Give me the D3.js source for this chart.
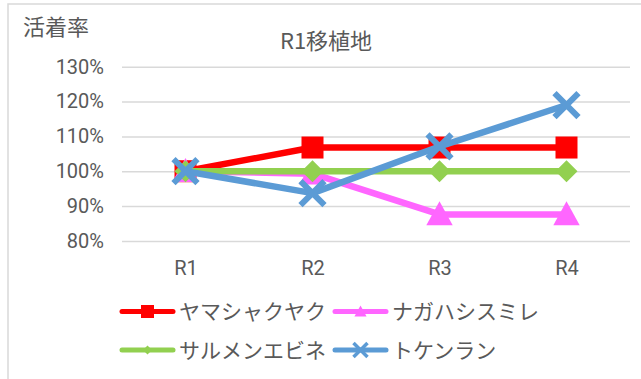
<!DOCTYPE html>
<html><head><meta charset="utf-8">
<script src="https://cdn.jsdelivr.net/npm/d3@7"></script>
<style>body{margin:0;background:#fff}svg{display:block}</style>
</head><body>
<script>
const categories = ["R1","R2","R3","R4"];
const seriesNames = ["ヤマシャクヤク","ナガハシスミレ","サルメンエビネ","トケンラン"];
const yamashakuyaku = [1.00, 1.068, 1.068, 1.068];
const nagahashisumire = [1.00, 0.993, 0.876, 0.876];
const salmenebine = [1.00, 1.00, 1.00, 1.00];
const tokenran = [1.00, 0.937, 1.071, 1.19];
const yTicks = [0.8,0.9,1.0,1.1,1.2,1.3];
const title = "R1移植地";
const yTitle = "活着率";

const colors = ["#FF0000","#FF66FF","#92D050","#5B9BD5"];
const shapes = ["square","triangle","diamond","x"];
const data = [yamashakuyaku, nagahashisumire, salmenebine, tokenran];

const W=641,H=379;
const svg=d3.select("body").append("svg").attr("width",W).attr("height",H);
const jp = "'Noto Sans CJK JP', sans-serif";
const txt = "#595959";

// border
svg.append("path").attr("d","M8,379 L8,4 L641,4").attr("fill","none").attr("stroke","#D9D9D9").attr("stroke-width",1.5);

const plot={l:122,r:630,t:66.7,b:240.9};
const x=d3.scalePoint().domain(categories).range([plot.l,plot.r]).padding(0.5);
const y=d3.scaleLinear().domain([0.8,1.3]).range([plot.b,plot.t]);

// grid
const yAxis=d3.axisLeft(y).tickValues(yTicks).tickFormat(d3.format(".0%")).tickSize(-(plot.r-plot.l)).tickPadding(18);
const ga=svg.append("g").attr("transform",`translate(${plot.l},0)`).call(yAxis);
ga.select(".domain").remove();
ga.selectAll(".tick line").attr("stroke","#D9D9D9").attr("stroke-width",1.5);
ga.selectAll(".tick text").attr("fill",txt).attr("font-family","Roboto, sans-serif").attr("font-size",20);

const xAxis=d3.axisBottom(x).tickSize(0).tickPadding(20);
const gx=svg.append("g").attr("transform",`translate(0,${plot.b})`).call(xAxis);
gx.select(".domain").remove();
gx.selectAll(".tick text").attr("fill",txt).attr("font-family","Roboto, sans-serif").attr("font-size",20);

// titles
svg.append("text").attr("x",326).attr("y",49).attr("text-anchor","middle").attr("fill",txt)
  .attr("font-family",jp).attr("font-size",22).text(title);
svg.append("text").attr("x",23).attr("y",35).attr("fill",txt)
  .attr("font-family",jp).attr("font-size",22).text(yTitle);

function marker(g, shape, cx, cy, color, s){
  if(shape==="square"){
    g.append("rect").attr("x",cx-s/2).attr("y",cy-s/2).attr("width",s).attr("height",s).attr("fill",color);
  } else if(shape==="triangle"){
    const h=s;
    g.append("path").attr("d",`M${cx},${cy-h*0.55} L${cx+s*0.55},${cy+h*0.45} L${cx-s*0.55},${cy+h*0.45} Z`).attr("fill",color);
  } else if(shape==="diamond"){
    g.append("path").attr("d",`M${cx},${cy-s/2} L${cx+s/2},${cy} L${cx},${cy+s/2} L${cx-s/2},${cy} Z`).attr("fill",color);
  } else {
    const a=s/2;
    g.append("path").attr("d",`M${cx-a},${cy-a} L${cx+a},${cy+a} M${cx-a},${cy+a} L${cx+a},${cy-a}`)
      .attr("stroke",color).attr("stroke-width",s*0.25).attr("fill","none");
  }
}

const line=d3.line().x((d,i)=>x(categories[i])).y(d=>y(d));
const sizes=[22,24,22,24];
data.forEach((vals,si)=>{
  const g=svg.append("g");
  g.append("path").datum(vals).attr("d",line).attr("fill","none").attr("stroke",colors[si])
    .attr("stroke-width",6.5).attr("stroke-linejoin","round").attr("stroke-linecap","round");
  vals.forEach((v,i)=>marker(g,shapes[si],x(categories[i]),y(v),colors[si],sizes[si]));
});

// legend
const legendPos=[[120,311.5],[333,311.5],[120,350],[333,350]];
const lsizes=[13,11,9,14];
seriesNames.forEach((n,i)=>{
  const [lx,ly]=legendPos[i];
  const g=svg.append("g");
  g.append("line").attr("x1",lx+2).attr("x2",lx+53).attr("y1",ly).attr("y2",ly).attr("stroke",colors[i])
    .attr("stroke-width",5).attr("stroke-linecap","round");
  marker(g,shapes[i],lx+27.5,ly,colors[i],lsizes[i]);
  g.append("text").attr("x",lx+59).attr("y",ly).attr("dy","0.36em").attr("fill",txt)
    .attr("font-family",jp).attr("font-size",21).text(n);
});
</script>
</body></html>
